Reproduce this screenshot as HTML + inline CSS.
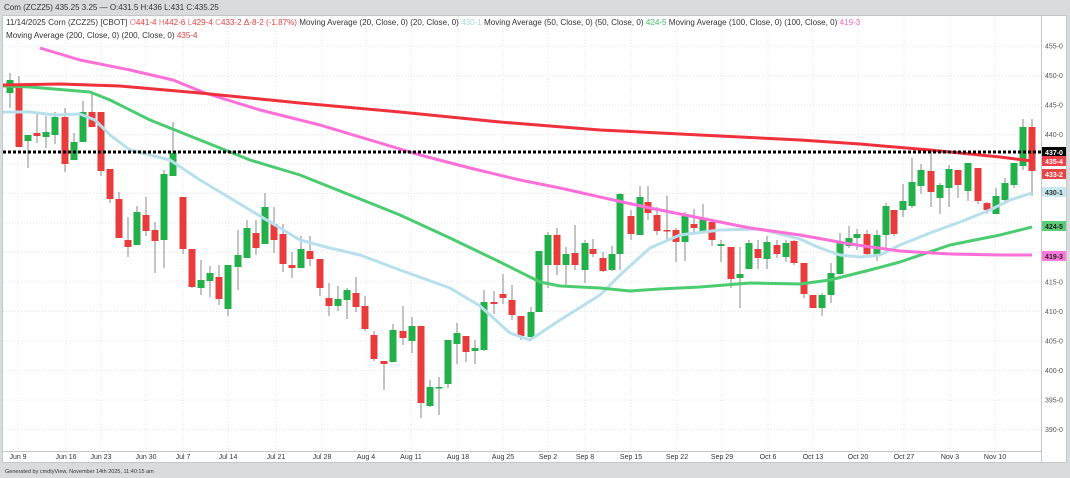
<!DOCTYPE html>
<html><head><meta charset="utf-8"><style>
html,body{margin:0;padding:0;width:1070px;height:478px;overflow:hidden;background:#d9dcdf;font-family:"Liberation Sans",sans-serif}
</style></head><body>
<svg id="s" width="1070" height="478" xmlns="http://www.w3.org/2000/svg" font-family="Liberation Sans, sans-serif">
<rect x="0" y="0" width="1070" height="478" fill="#d9dcdf"/>
<text x="4" y="10" font-size="8" fill="#333">Com (ZCZ25) 435.25 3.25 — O:431.5 H:436 L:431 C:435.25</text>
<rect x="2.5" y="15.5" width="1064" height="447" fill="#fff" stroke="#c4c7ca"/>
<line x1="1041.5" y1="16" x2="1041.5" y2="462" stroke="#c4c7ca"/>
<line x1="3" y1="451.5" x2="1041" y2="451.5" stroke="#c4c7ca"/>
<g id="grid" stroke="#e2e4e6" stroke-dasharray="1,2"></g>
<g font-size="8.1" fill="#333">
<text x="6" y="25"><tspan>11/14/2025 Corn (ZCZ25) [CBOT] </tspan><tspan fill="#f08080">O</tspan><tspan fill="#e84040">441-4 </tspan><tspan fill="#f08080">H</tspan><tspan fill="#e84040">442-6 </tspan><tspan fill="#f08080">L</tspan><tspan fill="#e84040">429-4 </tspan><tspan fill="#f08080">C</tspan><tspan fill="#e84040">433-2 </tspan><tspan fill="#e84040">Δ-8-2 (-1.87%) </tspan><tspan>Moving Average (20, Close, 0)  (20, Close, 0) </tspan><tspan fill="#a8d8e8">430-1 </tspan><tspan>Moving Average (50, Close, 0)  (50, Close, 0) </tspan><tspan fill="#3cc060">424-5 </tspan><tspan>Moving Average (100, Close, 0)  (100, Close, 0) </tspan><tspan fill="#ff66cc">419-3</tspan></text>
<text x="6" y="38">Moving Average (200, Close, 0)  (200, Close, 0) <tspan fill="#e84040">435-4</tspan></text>
</g>
<g id="yl" font-size="7" fill="#555"></g>
<g id="xl" font-size="7" fill="#333" text-anchor="middle"></g>
<g id="c"></g>
<g id="ma" fill="none" stroke-width="3" stroke-linejoin="round"></g>
<line x1="3" y1="152" x2="1041" y2="152" stroke="#000" stroke-width="3" stroke-dasharray="3,2"/>
<g font-size="7" font-weight="bold" text-anchor="middle">
<rect x="1042" y="147" width="24" height="10" fill="#000"/><text x="1054" y="155" fill="#fff">437-0</text>
<rect x="1042" y="156" width="24" height="10" fill="#f0404a"/><text x="1054" y="164" fill="#fff">435-4</text>
<rect x="1042" y="169" width="24" height="10" fill="#e84545"/><text x="1054" y="177" fill="#fff">433-2</text>
<rect x="1042" y="187" width="24" height="10" fill="#c8e8f2"/><text x="1054" y="195" fill="#333">430-1</text>
<rect x="1042" y="221" width="24" height="10" fill="#5ccc78"/><text x="1054" y="229" fill="#222">424-5</text>
<rect x="1042" y="251" width="24" height="10" fill="#ff77dd"/><text x="1054" y="259" fill="#222">419-3</text>
</g>
<text x="5" y="473" font-size="5.5" fill="#333">Generated by cmdtyView, November 14th 2025, 11:40:15 am</text>
</svg>
<script>
const NS="http://www.w3.org/2000/svg";
function el(p,t,a,txt){const e=document.createElementNS(NS,t);for(const k in a)e.setAttribute(k,a[k]);if(txt)e.textContent=txt;document.getElementById(p).appendChild(e);return e;}
const Y=p=>46+(455-p)*5.9;
[455,450,445,440,435,430,425,420,415,410,405,400,395,390].forEach(p=>{
 el("grid","line",{x1:3,x2:1041,y1:Y(p),y2:Y(p)});
 if(![435,430,425,420].includes(p)) el("yl","text",{x:1045,y:Y(p)+2.5},p+"-0");
});
const dx=[["Jun 9",18],["Jun 16",66],["Jun 23",101],["Jun 30",146],["Jul 7",183],["Jul 14",228],["Jul 21",276],["Jul 28",322],["Aug 4",366],["Aug 11",411],["Aug 18",458],["Aug 25",503],["Sep 2",548],["Sep 8",585],["Sep 15",631],["Sep 22",677],["Sep 29",722],["Oct 6",768],["Oct 13",813],["Oct 20",858],["Oct 27",904],["Nov 3",950],["Nov 10",995]];
dx.forEach(([t,x])=>{el("grid","line",{x1:x,x2:x,y1:16,y2:451});el("xl","text",{x:x,y:459},t);});
const C=[[10,93,80,73,108],[19,85,147,76,147],[28,141,135,135,168],[37,133,136,113,143],[46,137,132,116,148],[55,135,117,112,144],[65,117,164,108,172],[74,160,142,133,160],[83,142,112,101,142],[92,112,127,93,127],[101,112,171,112,176],[110,169,199,169,203],[119,199,238,192,238],[128,240,247,217,257],[137,245,212,206,245],[146,215,231,197,236],[155,230,241,222,273],[164,240,174,170,268],[173,176,153,122,176],[183,197,249,197,254],[192,249,287,249,288],[201,288,280,260,295],[210,281,273,266,297],[219,277,299,265,305],[228,309,265,265,316],[238,267,255,230,290],[247,258,228,220,258],[256,233,248,220,255],[265,244,207,193,244],[274,224,240,207,253],[283,234,264,224,272],[292,265,268,252,278],[301,268,249,236,268],[310,251,259,236,266],[320,259,288,259,296],[329,298,306,283,316],[338,306,299,286,311],[347,300,290,288,319],[356,293,307,277,312],[365,306,329,296,331],[374,335,359,331,361],[384,361,364,361,390],[393,362,330,324,362],[403,331,338,306,345],[412,341,326,317,353],[421,326,403,326,418],[430,406,387,380,407],[439,388,387,377,415],[448,384,340,340,388],[457,344,333,323,364],[466,336,352,336,362],[475,351,348,340,364],[484,350,302,290,351],[494,302,304,291,314],[503,294,298,274,304],[512,300,315,285,320],[521,316,336,316,340],[531,337,312,307,340],[539,312,251,251,312],[548,265,235,232,288],[557,235,265,228,275],[566,265,254,247,287],[575,253,265,225,270],[585,270,243,240,283],[593,249,254,239,257],[603,258,271,252,272],[612,270,254,246,271],[620,254,194,193,270],[631,216,234,210,240],[640,235,197,186,235],[648,202,213,186,220],[657,215,231,207,235],[667,230,231,196,240],[676,230,242,228,262],[685,242,216,212,261],[694,224,228,209,232],[703,231,219,204,232],[712,222,240,222,246],[721,246,244,240,262],[731,247,279,247,288],[740,278,274,247,308],[749,269,243,240,269],[758,249,258,240,269],[767,259,242,236,269],[777,245,254,240,258],[786,257,243,240,262],[794,241,263,240,265],[804,263,294,263,298],[813,295,308,295,308],[822,308,295,293,316],[831,295,273,263,303],[840,274,243,233,275],[849,246,238,226,248],[857,238,234,229,250],[867,234,254,230,256],[877,255,235,230,261],[886,235,206,203,248],[894,210,234,210,236],[903,210,201,184,217],[912,206,182,158,208],[921,186,170,164,194],[931,171,192,152,207],[940,198,185,183,214],[949,188,169,165,207],[958,170,185,170,198],[968,191,163,163,201],[978,168,201,168,204],[987,203,210,202,214],[996,214,196,188,214],[1005,200,183,178,204],[1014,185,163,163,188],[1023,166,127,119,170],[1032,127,171,119,196]];
C.forEach(([x,o,c,h,l])=>{
 const up=c<o, col=up?"#22b04a":"#e83c3c";
 el("c","line",{x1:x,x2:x,y1:h,y2:l,stroke:"#888","stroke-width":1});
 const t=Math.min(o,c),b=Math.max(o,c);
 el("c","rect",{x:x-3.5,y:t,width:7,height:Math.max(1.5,b-t),fill:col});
});
function line(pts,col){el("ma","polyline",{points:pts.map(p=>p.join(",")).join(" "),stroke:col});}
line([[3,112],[30,112],[55,115],[80,114],[95,120],[110,135],[130,150],[170,160],[200,180],[250,210],[300,240],[330,248],[360,255],[400,270],[450,288],[480,306],[510,333],[530,340],[560,320],[600,295],[620,275],[650,248],[680,235],[720,230],[760,229],[800,239],[820,248],[840,255],[860,257],[880,255],[900,245],[930,233],[960,222],[990,210],[1010,200],[1032,193]],"#b8e0ec");
line([[3,86],[30,87],[90,92],[110,100],[150,120],[200,140],[250,160],[300,175],[350,195],[400,215],[450,238],[500,262],[540,282],[560,286],[600,288],[630,291],[660,289],[700,287],[750,283],[800,284],[830,280],[870,270],[900,262],[950,245],[1000,235],[1032,227]],"#4ccc70");
line([[40,48],[80,60],[130,70],[173,80],[205,93],[260,110],[320,125],[380,143],[420,155],[470,168],[520,180],[560,188],[600,197],[650,208],[700,218],[750,228],[800,235],[850,244],[900,251],[950,254],[1000,255],[1032,255]],"#ff6fd8");
line([[3,85],[60,84],[120,86],[200,93],[300,103],[400,112],[500,122],[600,130],[700,135],[800,140],[860,144],[930,150],[1000,157],[1032,161]],"#f0303a");
</script>
</body></html>
